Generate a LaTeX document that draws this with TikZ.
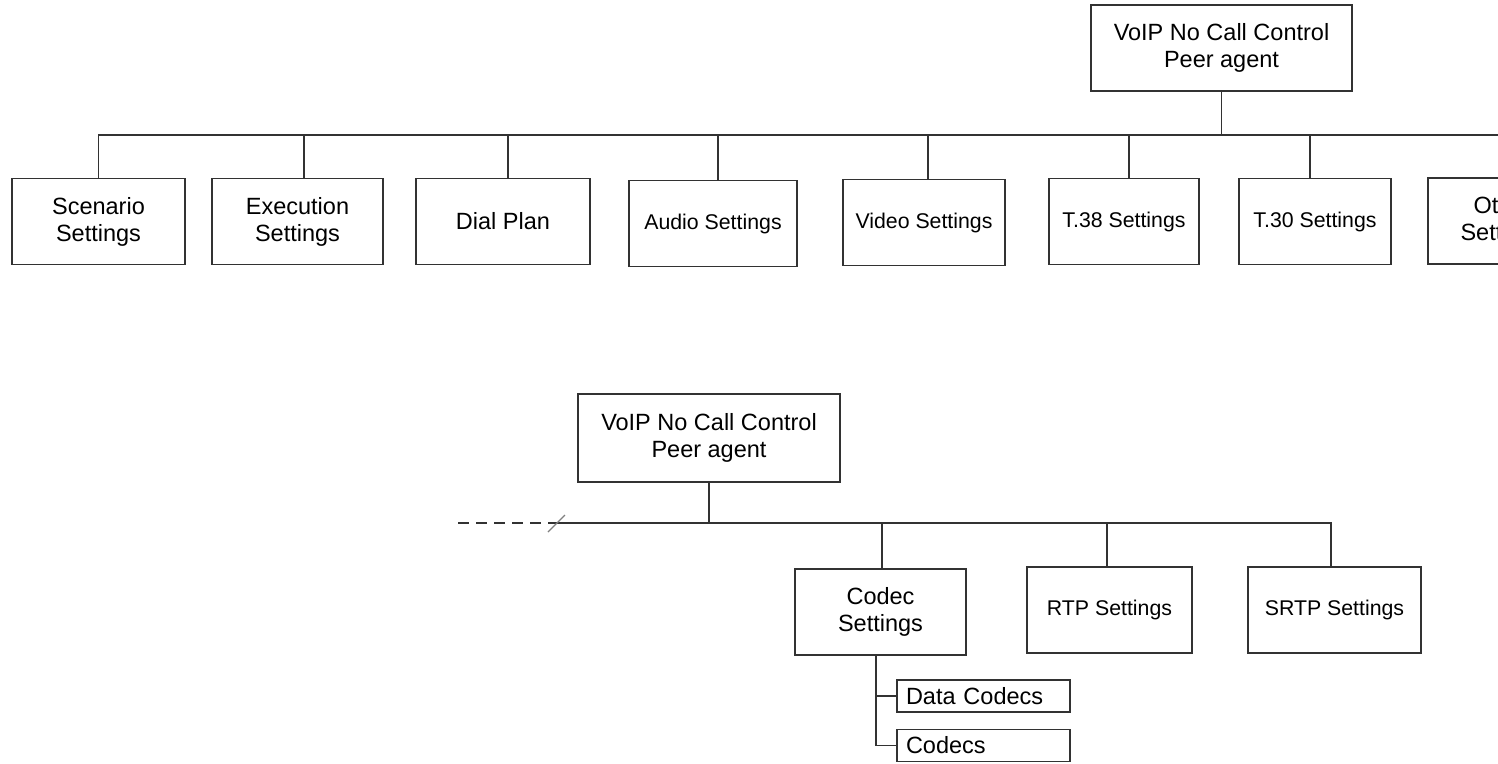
\documentclass[tikz,border=0pt]{standalone}
\usepackage{fontspec}
\setmainfont{Liberation Sans}
\usetikzlibrary{calc}
\definecolor{clrLn}{RGB}{50,50,50}
\tikzset{
  setbox/.style={rectangle, draw=clrLn, line width=1.8pt, fill=white, align=center,
    minimum height=86pt, inner sep=2pt, font=\fontsize{23.5}{27}\selectfont},
  setsmall/.style={setbox, font=\fontsize{21.3}{25}\selectfont},
  subbox/.style={rectangle, draw=clrLn, line width=1.8pt, fill=white, align=left,
    text width=155pt, inner xsep=9pt, inner ysep=0pt, minimum height=32pt,
    font=\fontsize{23.5}{27}\selectfont},
  link/.style={draw=clrLn, line width=1.8pt},
}
\begin{document}
\begin{tikzpicture}[x=1pt,y=-1pt]
\useasboundingbox (0,0) rectangle (1498,763);
\clip (0,0) rectangle (1498,763);
% upper tree
\node[setbox, minimum width=261pt] (peer1) at (1221.5,48) {VoIP No Call Control\\Peer agent};
\coordinate (bus1) at (98,135);
\coordinate (bus1end) at (1530,135);
\node[setbox, minimum width=173pt] (scen) at (98.5,221.5) {Scenario\\Settings};
\node[setbox, minimum width=171pt] (exec) at (297.5,221.5) {Execution\\Settings};
\node[setbox, minimum width=174pt] (dial) at (503,221.5) {Dial Plan};
\node[setsmall, minimum width=168pt] (audio) at (713,223.5) {Audio Settings};
\node[setsmall, minimum width=162pt] (video) at (924,222.5) {Video Settings};
\node[setsmall, minimum width=150pt] (tthreeeight) at (1124,221.5) {T.38 Settings};
\node[setsmall, minimum width=152pt] (tthreezero) at (1315,221.5) {T.30 Settings};
\node[setbox, minimum width=150pt] (other) at (1503,221) {Other\\Settings};
\draw[link] (bus1) -- (bus1end);
\draw[link] (peer1.south) -- (peer1.south |- bus1);
\foreach \n/\dx in {scen/0, exec/6.5, dial/5, audio/5, video/4, tthreeeight/5, tthreezero/-5}
  \draw[link] ([xshift=\dx pt]\n.north) -- ([xshift=\dx pt]\n.north |- bus1);
% lower tree
\node[setbox, minimum width=262pt, minimum height=88pt] (peer2) at (709,438) {VoIP No Call Control\\Peer agent};
\coordinate (bus2) at (555,523);
\coordinate (bus2dash) at (458,523);
\coordinate (slashA) at (548,532);
\coordinate (slashB) at (565,515);
\node[setbox, minimum width=171pt] (codec) at (880.5,612) {Codec\\Settings};
\node[setsmall, minimum width=165pt] (rtp) at (1109.5,610) {RTP Settings};
\node[setsmall, minimum width=173pt] (srtp) at (1334.5,610) {SRTP Settings};
\draw[link] (bus2) -- ([xshift=-3.5pt]srtp.north |- bus2) -- ([xshift=-3.5pt]srtp.north);
\draw[link, dash pattern=on 11pt off 7pt] (bus2dash) -- (bus2);
\draw[draw=gray, line width=1.1pt] (slashA) -- (slashB);
\draw[link] (peer2.south) -- (peer2.south |- bus2);
\foreach \n/\dx in {codec/1.5, rtp/-2.5}
  \draw[link] ([xshift=\dx pt]\n.north) -- ([xshift=\dx pt]\n.north |- bus2);
% codec branch
\node[subbox] (dcodec) at (983.5,696) {Data Codecs};
\node[subbox] (codecs) at (983.5,745.5) {Codecs};
\draw[link] ([xshift=-4.5pt]codec.south) |- (dcodec.west);
\draw[link] ([xshift=-4.5pt]codec.south) |- (codecs.west);
\end{tikzpicture}
\end{document}
